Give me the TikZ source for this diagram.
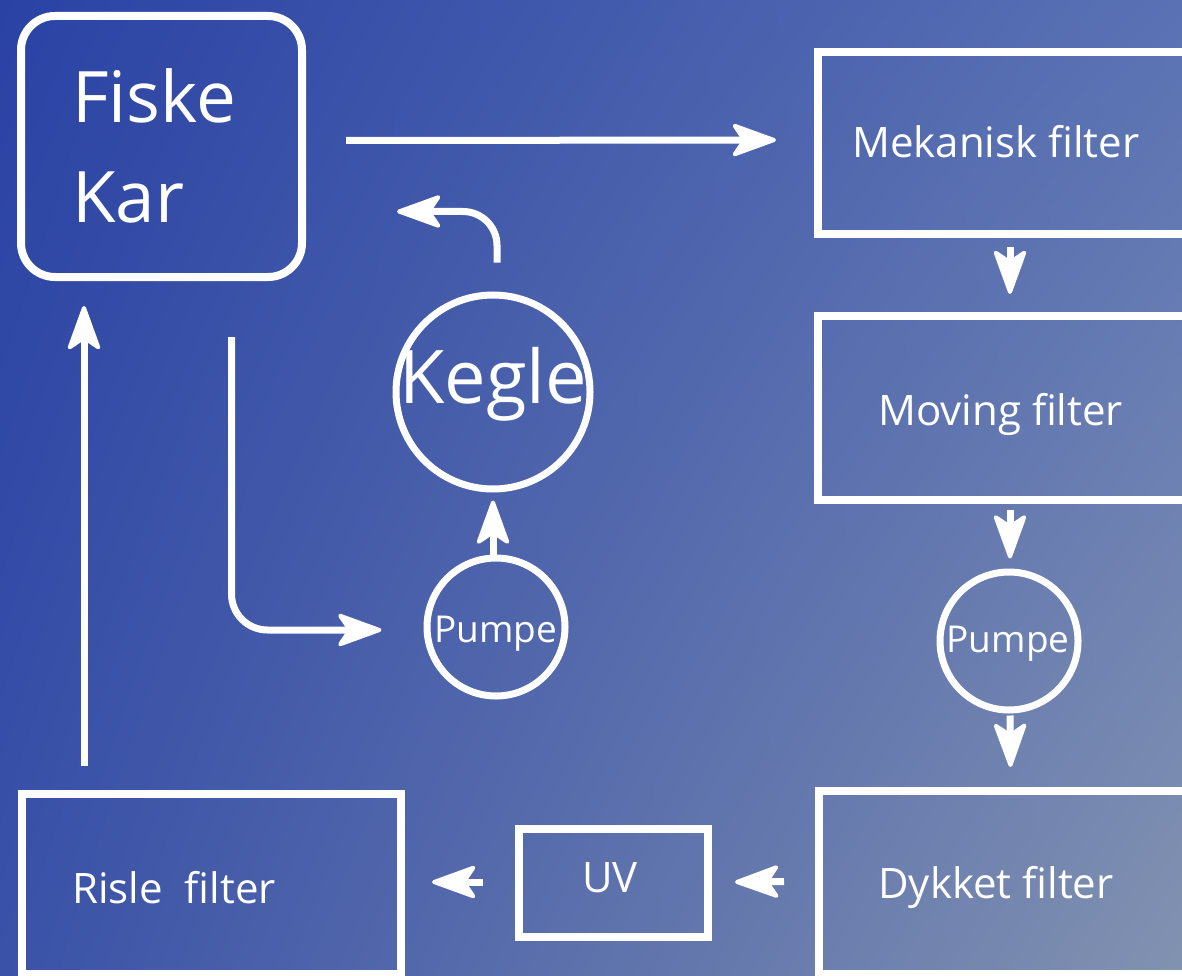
\documentclass[tikz,border=0pt]{standalone}
\usepackage{fontspec}
\setmainfont{Open Sans}
\usetikzlibrary{arrows.meta,calc,shadings}
\definecolor{bgUL}{HTML}{2A42A4}
\definecolor{bgUR}{HTML}{5A72B4}
\definecolor{bgLL}{HTML}{3A52A8}
\definecolor{bgLR}{HTML}{8292B0}
\tikzset{
  box/.style={draw=white, line width=8pt, inner sep=0pt},
  ring/.style={draw=white, line width=7pt, circle, inner sep=0pt},
  lbl/.style={text=white, inner sep=0pt, anchor=base west, font=\fontsize{42}{50}\selectfont},
  clbl/.style={text=white, inner sep=0pt, anchor=base},
  arr/.style={draw=white, line width=7pt, arrows={-Stealth[round, length=50pt, width=36pt, inset=12pt, line width=4pt]}},
}
\begin{document}
\begin{tikzpicture}[x=1pt,y=-1pt]
\useasboundingbox (0,0) rectangle (1182,976);
\clip (0,0) rectangle (1182,976);
\shade[upper left=bgUL, upper right=bgUR, lower left=bgLL, lower right=bgLR] (0,0) rectangle (1182,976);

% boxes
\node[box, rounded corners=34pt, minimum width=281pt, minimum height=261pt] (fiske) at (161.5,146.5) {};
\node[box, minimum width=382pt, minimum height=182pt] (mek) at (1009,143) {};
\node[box, minimum width=382pt, minimum height=184pt] (moving) at (1009,408) {};
\node[box, minimum width=381pt, minimum height=183pt] (dykket) at (1009.5,882.5) {};
\node[box, minimum width=379pt, minimum height=180pt] (risle) at (211.5,884) {};
\node[box, minimum width=189pt, minimum height=108pt] (uv) at (613.5,883) {};

% circles
\node[ring, minimum size=194pt] (kegle) at (493,392) {};
\node[ring, minimum size=138pt] (pumpeL) at (496,627) {};
\node[ring, minimum size=138pt] (pumpeR) at (1009,641) {};

% labels
\node[clbl, font=\fontsize{74}{80}\selectfont] (kegletxt) at (493,403) {Kegle};
\node[clbl, font=\fontsize{37}{40}\selectfont] (pumpeLtxt) at (496,642) {Pumpe};
\node[clbl, font=\fontsize{37}{40}\selectfont] (pumpeRtxt) at (1008,652) {Pumpe};
\node[lbl, font=\fontsize{71}{100}\selectfont] (fisketxt) at (72,123) {Fiske};
\node[lbl, font=\fontsize{71}{100}\selectfont] (kartxt) at (72,223) {Kar};
\node[lbl] (mektxt) at (852,158) {Mekanisk filter};
\node[lbl] (movtxt) at (878,425) {Moving filter};
\node[lbl] (dyktxt) at (878,898) {Dykket filter};
\node[lbl] (ristxt) at (72,903) {Risle\ \ filter};
\node[lbl] (uvtxt) at (582,892) {UV};

% connectors
\draw[arr] ($(fiske.east)+(40,-6)$) -- ($(mek.west)+(-38,-3)$);
\draw[arr] ($(mek.south)+(1,9)$) -- ($(moving.north)+(1,-18)$);
\draw[arr] ($(moving.south)+(1,6)$) -- ($(pumpeR.north)+(1,-10)$);
\draw[arr] ($(pumpeR.south)+(1,2)$) -- ($(dykket.north)+(1,-20)$);
\draw[arr] ($(dykket.west)+(-31,-1)$) -- ($(uv.east)+(23,-1)$);
\draw[arr] ($(uv.west)+(-32,-1)$) -- ($(risle.east)+(27,-2)$);
\draw[arr] ($(risle.north west)+(66,-24)$) -- ($(fiske.south west)+(67,25)$);
\draw[arr] ($(pumpeL.north)+(-3,0)$) -- ($(kegle.south)+(0,8)$);
\draw[arr, rounded corners=34pt] ($(kegle.north)+(4,-29)$) |- ($(fiske.east)+(91,65)$);
\draw[arr, rounded corners=36pt] ($(fiske.south)+(70,56)$) |- ($(pumpeL.west)+(-42,3)$);
\end{tikzpicture}
\end{document}
